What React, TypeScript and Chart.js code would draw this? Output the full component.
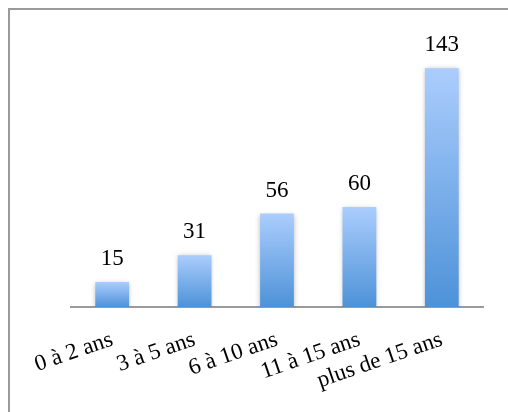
import React, { useEffect, useRef } from "react";
import { Chart, registerables } from "chart.js";

Chart.register(...registerables);

const categories = ["0 à 2 ans", "3 à 5 ans", "6 à 10 ans", "11 à 15 ans", "plus de 15 ans"];
const values = [15, 31, 56, 60, 143];

const FONT = "'Liberation Serif', 'Times New Roman', serif";

const shadowPlugin = {
  id: "barShadow",
  beforeDatasetsDraw(chart: any) {
    const ctx = chart.ctx;
    ctx.save();
    ctx.shadowColor = "rgba(0,0,0,0.28)";
    ctx.shadowBlur = 5;
    ctx.shadowOffsetX = 0;
    ctx.shadowOffsetY = 1;
  },
  afterDatasetsDraw(chart: any) {
    const ctx = chart.ctx;
    ctx.restore();
    const meta = chart.getDatasetMeta(0);
    ctx.save();
    ctx.fillStyle = "#000";
    ctx.font = `23px ${FONT}`;
    ctx.textAlign = "center";
    ctx.textBaseline = "alphabetic";
    meta.data.forEach((bar: any, i: number) => {
      ctx.fillText(String(values[i]), bar.x, bar.y - 17);
    });
    ctx.restore();
  },
};

export default function App() {
  const ref = useRef<HTMLCanvasElement>(null);
  useEffect(() => {
    const chart = new Chart(ref.current!, {
      type: "bar",
      data: {
        labels: categories,
        datasets: [
          {
            data: values,
            barPercentage: 0.41,
            categoryPercentage: 1,
            borderWidth: 0,
            backgroundColor: (context: any) => {
              const c = context.chart;
              const area = c.chartArea;
              if (!area || !c.scales.y) return "#7fb1ea";
              const v = values[context.dataIndex] ?? 0;
              const top = c.scales.y.getPixelForValue(v);
              const bottom = c.scales.y.getPixelForValue(0);
              if (!isFinite(top) || !isFinite(bottom) || top === bottom) return "#7fb1ea";
              const g = c.ctx.createLinearGradient(0, top, 0, bottom);
              g.addColorStop(0, "#abcdfd");
              g.addColorStop(1, "#4d92d8");
              return g;
            },
          },
        ],
      },
      options: {
        animation: false,
        responsive: true,
        maintainAspectRatio: false,
        layout: { padding: { left: 61, right: 25, top: 30, bottom: 0 } },
        plugins: {
          legend: { display: false },
          tooltip: { enabled: false },
          title: { display: false },
        },
        scales: {
          x: {
            grid: { display: false, drawTicks: false },
            border: { display: true, color: "#9a9a9a", width: 2 },
            ticks: {
              color: "#000",
              font: { family: FONT, size: 23 },
              minRotation: 19,
              maxRotation: 19,
              padding: 19,
              autoSkip: false,
            },
            afterFit: (scale: any) => {
              scale.height = 105;
              scale.paddingLeft = 0;
              scale.paddingRight = 0;
            },
          },
          y: {
            display: false,
            min: 0,
            max: 160,
          },
        },
      },
      plugins: [shadowPlugin],
    });
    return () => chart.destroy();
  }, []);

  return (
    <div
      style={{
        position: "fixed",
        left: 0,
        top: 0,
        width: 508,
        height: 412,
        overflow: "hidden",
        background: "#fff",
      }}
    >
      <div
        style={{
          position: "absolute",
          left: 8,
          top: 8,
          width: 520,
          height: 420,
          borderTop: "2px solid #9a9a9a",
          borderLeft: "2px solid #9a9a9a",
        }}
      >
        <div style={{ position: "relative", width: 498, height: 402 }}>
          <canvas ref={ref} />
        </div>
      </div>
    </div>
  );
}
